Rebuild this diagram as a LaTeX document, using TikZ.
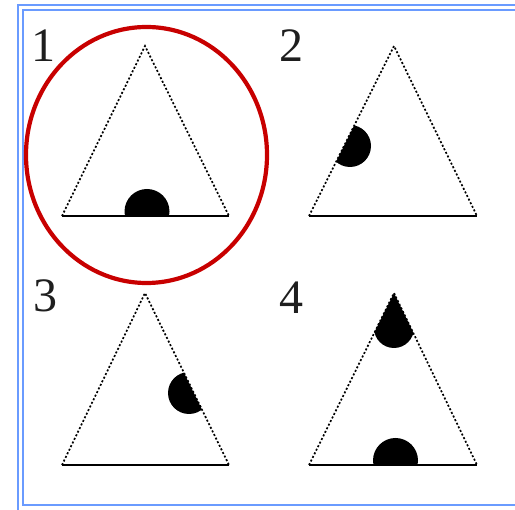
\documentclass[tikz,border=0pt]{standalone}
\usepackage{fontspec}
\setmainfont{Liberation Serif}
\definecolor{bordblue}{RGB}{106,155,255}
\definecolor{ringred}{RGB}{200,0,0}
\definecolor{digitgray}{RGB}{30,30,30}
\tikzset{
  border/.style={draw=bordblue, line width=2.6pt},
  sideline/.style={line width=1.7pt, dash pattern=on 2pt off 2pt},
  baseline/.style={line width=2pt},
  blob/.style={fill=black},
  digit/.style={inner sep=0pt, text=digitgray, font=\fontsize{48}{48}\selectfont},
  ring/.style={draw=ringred, line width=4.2pt}
}
\begin{document}
\begin{tikzpicture}[x=1pt,y=-1pt]
\useasboundingbox (0,0) rectangle (515,510);
% border
\draw[border] (515,5) -- (18,5) -- (18,510);
\draw[border] (515,10) -- (23,10) -- (23,505) -- (515,505);
% vertices
\coordinate (a1) at (145,46);  \coordinate (l1) at (62,216);  \coordinate (r1) at (229,216);
\coordinate (a2) at (394,46);  \coordinate (l2) at (309,216); \coordinate (r2) at (477,216);
\coordinate (a3) at (145,293); \coordinate (l3) at (62,465);  \coordinate (r3) at (229,465);
\coordinate (a4) at (394,293); \coordinate (l4) at (309,465); \coordinate (r4) at (477,465);
% blobs
\begin{scope}
  \clip (a1) -- (l1) -- (r1) -- cycle;
  \fill[blob] (147,211.5) circle[radius=22.5];
\end{scope}
\begin{scope}
  \clip (a2) -- (l2) -- (r2) -- cycle;
  \fill[blob] (350,146) circle[radius=21];
\end{scope}
\begin{scope}
  \clip (a3) -- (l3) -- (r3) -- cycle;
  \fill[blob] (189,393) circle[radius=21];
\end{scope}
\begin{scope}
  \clip (a4) -- (l4) -- (r4) -- cycle;
  \fill[blob] (394,328) circle[radius=20];
  \fill[blob] (300,285) rectangle (490,333);
  \fill[blob] (395.5,460.5) circle[radius=22.5];
\end{scope}
% triangles
\foreach \i in {1,2,3,4}{
  \draw[sideline] (l\i) -- (a\i) -- (r\i);
  \draw[baseline] (l\i) -- (r\i);
}
% labels
\node[digit] (n1) at (43,46) {1};
\node[digit] (n2) at (291,46) {2};
\node[digit] (n3) at (45,296) {3};
\node[digit] (n4) at (291,298) {4};
% ring
\draw[ring] (146.5,155) ellipse[x radius=120.5, y radius=128];
\end{tikzpicture}
\end{document}
